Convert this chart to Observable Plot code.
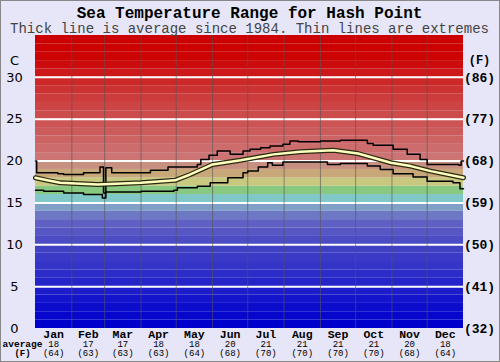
<!DOCTYPE html>
<html><head><meta charset="utf-8">
<script src="https://cdn.jsdelivr.net/npm/d3@7"></script>
<script src="https://cdn.jsdelivr.net/npm/@observablehq/plot@0.6"></script>
<style>body{margin:0;background:#fff} svg{display:block}</style>
</head><body><div id="chart"></div>
<script>
const titleText = "Sea Temperature Range for Hash Point";
const subtitleText = "Thick line is average since 1984. Thin lines are extremes";
const months = ["Jan","Feb","Mar","Apr","May","Jun","Jul","Aug","Sep","Oct","Nov","Dec"];
const monthStartDays = [0,31,59,90,120,151,181,212,243,273,304,334,365];
const avgC = [18,17,17,18,18,20,21,21,21,21,20,18];
const avgF = [64,63,63,63,64,68,70,70,70,70,68,64];
const cTicks = [0,5,10,15,20,25,30];
const fLabels = ["(32)","(41)","(50)","(59)","(68)","(77)","(86)"];
const gridLines = [5,10,15,20,25,30];
// one colour per 1°C band, from 0–1 up to 34–35
const bandColors = [
 "#0000cc","#0606cc","#0c0ccc","#1414cc","#1c1cca","#2424c8","#2c2cc8","#3434c8","#3a3ac6","#4040c4",
 "#4c4cc4","#5656c4","#6060c4","#6c78c4","#80a0c8","#80c8c8","#88c880","#c8c880","#c8a878","#c89080",
 "#cc7474","#cc6c6c","#cc6464","#cc5c5c","#cc5454","#cc4c4c","#cc4444","#cc3c3c","#cc3232","#cc2828",
 "#cc1818","#cc0c0c","#cc0404","#cc0000","#cc0000"];
const maxDays  = [0,1,19,24,41,55,58,60,65,98,113,138,141,148,155,166,177,183,192,200,211,217,224,243,260,283,288,305,317,328,334,361,363,365];
const maxTemps = [20.0,18.6,18.5,18.4,18.6,19.3,16.2,19.2,18.6,18.9,19.3,19.6,20.2,20.7,21.2,20.8,21.2,21.4,21.6,21.8,22.0,22.4,22.3,22.4,22.5,22.1,21.9,21.4,20.8,20.2,19.6,19.5,20.0,20.0];
const minDays  = [0,7,24,41,57,60,90,118,121,138,149,164,177,181,190,198,202,211,249,260,283,294,305,322,334,356,362,365];
const minTemps = [16.5,16.4,16.2,16.0,15.6,16.3,16.4,16.5,16.8,17.0,17.4,18.0,18.6,18.8,19.3,19.8,19.5,19.9,19.6,19.7,19.4,19.0,18.5,18.1,17.6,17.4,16.7,16.7];
const avgDays  = [0,10,21,53,90,119,132,151,175,203,226,254,275,303,320,337,365];
const avgTemps = [18.0,17.7,17.4,17.2,17.4,17.7,18.4,19.6,20.1,20.8,21.1,21.3,20.9,19.8,19.4,18.8,18.0];

const bands = bandColors.map((c,i)=>({y1:i,y2:i+1,color:c}));
const maxData = maxDays.map((d,i)=>({d,t:maxTemps[i]}));
const minData = minDays.map((d,i)=>({d,t:minTemps[i]}));
const avgData = avgDays.map((d,i)=>({d,t:avgTemps[i]}));
const monthMid = months.map((m,i)=>({m,x:(monthStartDays[i]+monthStartDays[i+1])/2,c:avgC[i],f:avgF[i]}));
const mono = "'Liberation Mono', 'DejaVu Sans Mono', monospace";

const chart = Plot.plot({
  width: 500, height: 362,
  marginTop: 35, marginBottom: 34, marginLeft: 35, marginRight: 37,
  x: {domain:[0,365], axis:null},
  y: {domain:[0,35], axis:null},
  style: {background:"#e6e6f8", overflow:"visible"},
  marks: [
    Plot.rect(bands, {x1:0, x2:365, y1:"y1", y2:"y2", fill:"color"}),
    Plot.ruleY(gridLines, {stroke:"white", strokeWidth:2}),
    Plot.ruleX(monthStartDays.slice(1,12), {stroke:"#555", strokeOpacity:0.6, strokeWidth:1}),
    Plot.line(maxData, {x:"d", y:"t", curve:"step-after", stroke:"#000", strokeWidth:1.5}),
    Plot.line(minData, {x:"d", y:"t", curve:"step-after", stroke:"#000", strokeWidth:1.5}),
    Plot.line(avgData, {x:"d", y:"t", stroke:"#2a2a10", strokeWidth:5}),
    Plot.line(avgData, {x:"d", y:"t", stroke:"#ffffc0", strokeWidth:2.5}),
    Plot.text(cTicks, {y:d=>d, text:d=>String(d), frameAnchor:"left", dx:-21, textAnchor:"middle", fontFamily:"'DejaVu Sans', sans-serif", fontSize:13, fill:"#000"}),
    Plot.text(cTicks, {y:d=>d, text:(d,i)=>fLabels[i], frameAnchor:"right", dx:16, textAnchor:"middle", fontFamily:mono, fontWeight:"bold", fontSize:13, fill:"#000"}),
    Plot.text(["C"], {y:32, text:d=>d, frameAnchor:"left", dx:-21, textAnchor:"middle", fontFamily:"'DejaVu Sans', sans-serif", fontSize:13, fill:"#000"}),
    Plot.text(["(F)"], {y:32, text:d=>d, frameAnchor:"right", dx:16, textAnchor:"middle", fontFamily:mono, fontWeight:"bold", fontSize:12, fill:"#000"}),
    Plot.text(monthMid, {x:"x", text:"m", frameAnchor:"bottom", dy:6, lineAnchor:"middle", fontFamily:mono, fontWeight:"bold", fontSize:11.5, fill:"#000"}),
    Plot.text(monthMid, {x:"x", text:d=>String(d.c), frameAnchor:"bottom", dy:16, lineAnchor:"middle", fontFamily:mono, fontSize:9, fill:"#000"}),
    Plot.text(monthMid, {x:"x", text:d=>`(${d.f})`, frameAnchor:"bottom", dy:25, lineAnchor:"middle", fontFamily:mono, fontSize:9, fill:"#000"}),
    Plot.text(["average"], {text:d=>d, frameAnchor:"bottom-left", dx:-13, dy:15.5, lineAnchor:"middle", textAnchor:"middle", fontFamily:mono, fontWeight:"bold", fontSize:9.5, fill:"#000"}),
    Plot.text(["(F)"], {text:d=>d, frameAnchor:"bottom-left", dx:-13, dy:25, lineAnchor:"middle", textAnchor:"middle", fontFamily:mono, fontWeight:"bold", fontSize:9, fill:"#000"}),
    Plot.text([titleText], {text:d=>d, frameAnchor:"top", dy:-23, lineAnchor:"middle", fontFamily:mono, fontWeight:"bold", fontSize:16, fill:"#000"}),
    Plot.text([subtitleText], {text:d=>d, frameAnchor:"top", dy:-7, lineAnchor:"middle", fontFamily:mono, fontSize:14, fill:"#444"})
  ]
});
chart.style.outline = "1px solid #888";
chart.style.outlineOffset = "-1px";
document.getElementById("chart").appendChild(chart);
</script>
</body></html>
